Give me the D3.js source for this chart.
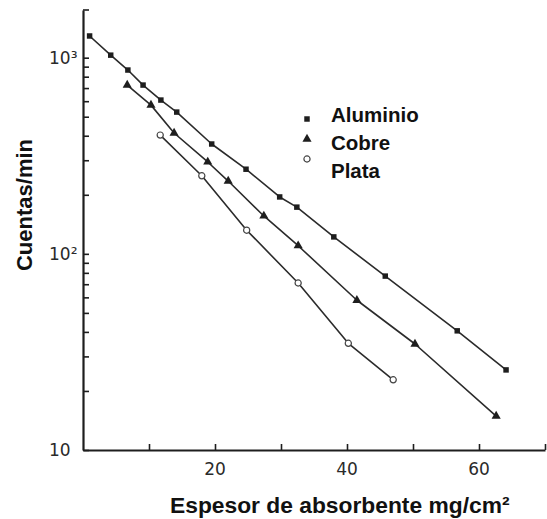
<!DOCTYPE html>
<html>
<head>
<meta charset="utf-8">
<script src="https://cdn.jsdelivr.net/npm/d3@7"></script>
<style>
  body { margin: 0; background: #fff; }
  svg { display: block; }
</style>
</head>
<body>
<div id="my_dataviz"></div>
<script>
// categories
var seriesNames = ["Aluminio", "Cobre", "Plata"];

// absorber thickness (mg/cm2) and counts per minute
var aluminioX = [1, 4.2, 6.8, 9.1, 11.8, 14.2, 19.5, 24.7, 29.8, 32.4, 38.0, 45.8, 56.7, 64.1];
var aluminioY = [1290, 1030, 865, 725, 608, 528, 363, 270, 195, 173, 122, 77, 40.5, 25.6];

var cobreX = [6.7, 10.3, 13.8, 18.9, 22.0, 27.4, 32.6, 41.5, 50.3, 62.6];
var cobreY = [725, 573, 413, 294, 235, 156, 110, 58, 34.7, 14.9];

var plataX = [11.7, 18.0, 24.8, 32.6, 40.2, 47.0];
var plataY = [403, 250, 132, 71, 35, 22.8];

// tick labels
var xTickValues = [10, 20, 30, 40, 50, 60, 70];
var xLabelValues = [20, 40, 60];
var xLabelText = ["20", "40", "60"];
var yLabelValues = [10, 100, 1000];
var yLabelText = ["10", "10²", "10³"];

var width = 547, height = 519;

var svg = d3.select("#my_dataviz")
  .append("svg")
    .attr("width", width)
    .attr("height", height);

var x = d3.scaleLinear()
  .domain([0, 70])
  .range([83, 545]);

var y = d3.scaleLog()
  .domain([10, 1750])
  .range([450, 10]);

var ink = "#1e1e1e";

// minor ticks on the log axis
var yMinor = [];
[10, 100].forEach(function(d) {
  for (var i = 1; i < 10; i++) yMinor.push(d * i);
});
yMinor.push(1000);

// Add Y axis (ticks point inward)
var yAxis = svg.append("g")
  .attr("transform", "translate(" + x(0) + ",0)")
  .call(d3.axisLeft(y).tickValues(yMinor).tickFormat("").tickSizeInner(-6).tickSizeOuter(0));
yAxis.select(".domain").attr("stroke", ink).attr("stroke-width", 2.2);
yAxis.selectAll(".tick line").attr("stroke", ink).attr("stroke-width", 1.6);

// small bracket at top of the y axis
svg.append("line")
  .attr("x1", x(0)).attr("x2", x(0) + 6)
  .attr("y1", y(1750)).attr("y2", y(1750))
  .attr("stroke", ink).attr("stroke-width", 1.6);

// Add X axis (ticks point inward)
var xAxis = svg.append("g")
  .attr("transform", "translate(0," + y(10) + ")")
  .call(d3.axisBottom(x).tickValues(xTickValues).tickFormat("").tickSizeInner(-6).tickSizeOuter(0));
xAxis.select(".domain").attr("stroke", ink).attr("stroke-width", 2.2);
xAxis.selectAll(".tick line").attr("stroke", ink).attr("stroke-width", 1.6);

// x tick labels
svg.append("g")
  .selectAll("text")
  .data(xLabelValues)
  .enter()
  .append("text")
    .attr("x", d => x(d))
    .attr("y", 475)
    .attr("text-anchor", "middle")
    .style("font-family", "DejaVu Sans")
    .style("font-size", "17px")
    .style("fill", "#2a2a2a")
    .text((d, i) => xLabelText[i]);

// y tick labels
svg.append("g")
  .selectAll("text")
  .data(yLabelValues)
  .enter()
  .append("text")
    .attr("x", 49)
    .attr("y", d => y(d))
    .attr("dy", "0.36em")
    .style("font-family", "DejaVu Sans")
    .style("font-size", "17px")
    .style("fill", "#2a2a2a")
    .text((d, i) => yLabelText[i]);

var line = d3.line()
  .x(d => x(d[0]))
  .y(d => y(d[1]));

var series = [
  {name: seriesNames[0], xs: aluminioX, ys: aluminioY, shape: "square"},
  {name: seriesNames[1], xs: cobreX, ys: cobreY, shape: "triangle"},
  {name: seriesNames[2], xs: plataX, ys: plataY, shape: "circle"}
];

var symbols = {
  square: d3.symbol().type(d3.symbolSquare).size(30),
  triangle: d3.symbol().type(d3.symbolTriangle).size(36),
  circle: d3.symbol().type(d3.symbolCircle).size(30)
};

function styleMarker(sel, shape) {
  if (shape === "circle") {
    sel.attr("fill", "#fff").attr("stroke", "#444").attr("stroke-width", 1.2);
  } else {
    sel.attr("fill", ink);
  }
}

series.forEach(function(s) {
  var pts = s.xs.map((d, i) => [d, s.ys[i]]);

  svg.append("path")
    .attr("d", line(pts))
    .attr("fill", "none")
    .attr("stroke", "#2b2b2b")
    .attr("stroke-width", 1.6)
    .attr("stroke-linejoin", "round");

  svg.append("g")
    .selectAll("path")
    .data(pts)
    .enter()
    .append("path")
      .attr("d", symbols[s.shape])
      .attr("transform", d => "translate(" + x(d[0]) + "," + y(d[1]) + ")")
      .call(styleMarker, s.shape);
});

// Add Legend
var legendMarkY = [119, 139, 159];
var legendTextY = [122, 150, 178];
series.forEach(function(s, i) {
  svg.append("path")
    .attr("d", symbols[s.shape])
    .attr("transform", "translate(307," + legendMarkY[i] + ")")
    .call(styleMarker, s.shape);
  svg.append("text")
    .attr("x", 331)
    .attr("y", legendTextY[i])
    .style("font-family", "Liberation Sans, Arial, sans-serif")
    .style("font-weight", "bold")
    .style("font-size", "20.5px")
    .style("fill", "#111")
    .text(s.name);
});

// axis titles
svg.append("text")
  .attr("transform", "translate(32,205) rotate(-90)")
  .attr("text-anchor", "middle")
  .style("font-family", "Liberation Sans, Arial, sans-serif")
  .style("font-weight", "bold")
  .style("font-size", "22px")
  .style("fill", "#111")
  .text("Cuentas/min");

svg.append("text")
  .attr("x", 170)
  .attr("y", 513)
  .style("font-family", "Liberation Sans, Arial, sans-serif")
  .style("font-weight", "bold")
  .style("font-size", "22.8px")
  .style("fill", "#111")
  .text("Espesor de absorbente mg/cm²");
</script>
</body>
</html>
